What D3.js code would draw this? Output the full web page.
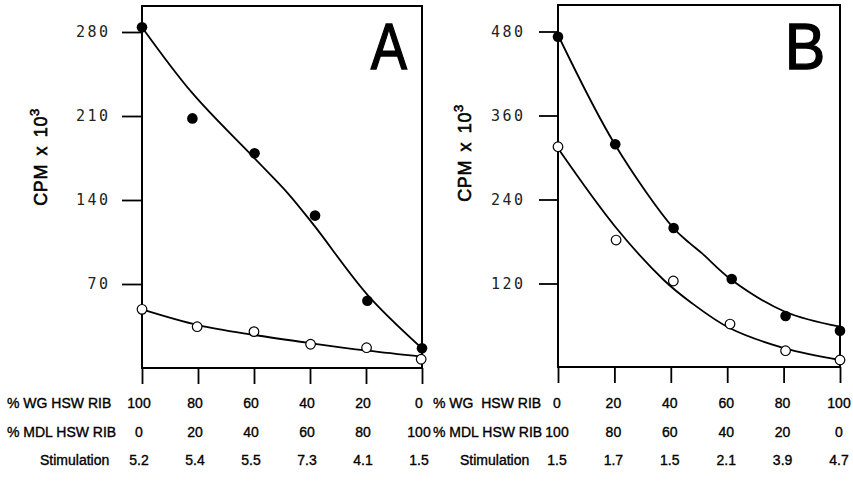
<!DOCTYPE html>
<html><head><meta charset="utf-8">
<script src="https://cdn.jsdelivr.net/npm/d3@7"></script>
<style>
body{margin:0;background:#fff;}
svg{display:block;}
.lbl{font-family:"Liberation Sans",Arial,sans-serif;font-size:14px;fill:#000;stroke:#000;stroke-width:0.35px;white-space:pre;}
.ytick text{font-family:"DejaVu Sans Mono",monospace;font-size:15px;fill:#222;letter-spacing:2.5px;}
</style></head><body>
<script>
// ---- Data ----
// Panel A
const wgA = [100, 80, 60, 40, 20, 0];
const mdlA = [0, 20, 40, 60, 80, 100];
const stimA = ["5.2", "5.4", "5.5", "7.3", "4.1", "1.5"];
const yTicksA = [70, 140, 210, 280];
const filledA_x = [100, 82.0, 59.8, 38.2, 19.5, 0];
const filledA_y = [284, 208, 179, 127, 56, 16.4];
const openA_x = [100, 80.3, 60, 39.8, 19.8, 0.3];
const openA_y = [48.9, 34.4, 30.3, 19.8, 16.9, 7.3];
const fitFilledA_x = [100, 82, 59.8, 47.9, 38.2, 19.4, 0];
const fitFilledA_y = [284, 229, 174.7, 145.6, 117.8, 60.8, 16.4];
const fitOpenA_x = [100, 80, 59.8, 39.5, 19.3, 0];
const fitOpenA_y = [48.9, 35.8, 27.5, 20.6, 14.4, 9.4];
// Panel B
const wgB = [0, 20, 40, 60, 80, 100];
const mdlB = [100, 80, 60, 40, 20, 0];
const stimB = ["1.5", "1.7", "1.5", "2.1", "3.9", "4.7"];
const yTicksB = [120, 240, 360, 480];
const filledB_x = [0, 20.3, 41, 61.6, 80.7, 100];
const filledB_y = [472.6, 318.9, 199.3, 126.4, 73.6, 52.6];
const openB_x = [0, 20.6, 40.9, 61, 80.7, 100];
const openB_y = [315.4, 182.1, 123.6, 62.1, 24, 10.7];
const fitFilledB_x = [0, 20.3, 41, 46.8, 51.1, 61.6, 80.5, 100];
const fitFilledB_y = [475, 317.9, 198.9, 177.4, 163, 125, 79.7, 58.3];
const fitOpenB_x = [0, 20.3, 37.5, 46.8, 61, 80.5, 100];
const fitOpenB_y = [313.1, 201.1, 125, 94, 56, 27.4, 10.7];

const W = 853, H = 483;
const svg = d3.select("body").append("svg").attr("width", W).attr("height", H);

function panel(cfg) {
  const g = svg.append("g");
  const x = d3.scaleLinear().domain(cfg.xDomain).range([cfg.left, cfg.right]);
  const y = d3.scaleLinear().domain([0, cfg.yMax]).range([cfg.y0, cfg.y0 - cfg.yMax * cfg.k]);

  // y axis
  const ya = g.append("g").attr("class", "ytick").attr("transform", `translate(${cfg.left},0)`)
    .call(d3.axisLeft(y).tickValues(cfg.yTicks).tickSize(cfg.yTickLen).tickPadding(cfg.yPad));
  ya.select(".domain").remove();
  ya.selectAll("line").attr("stroke", "#000").attr("stroke-width", 1.8);
  ya.selectAll("text").attr("dx", "2.5px");

  // x axis ticks
  const xa = g.append("g").attr("transform", `translate(0,${cfg.bottom})`)
    .call(d3.axisBottom(x).tickValues(cfg.wg).tickSize(16).tickFormat(""));
  xa.select(".domain").remove();
  xa.selectAll("line").attr("stroke", "#000").attr("stroke-width", 1.8);

  // frame
  g.append("rect").attr("x", cfg.left).attr("y", cfg.top)
    .attr("width", cfg.right - cfg.left).attr("height", cfg.bottom - cfg.top)
    .attr("fill", "none").attr("stroke", "#000").attr("stroke-width", 2);

  // fitted curves
  const line = d3.line().x(d => x(d[0])).y(d => y(d[1])).curve(d3.curveCatmullRom.alpha(0.5));
  [[cfg.fitF_x, cfg.fitF_y], [cfg.fitO_x, cfg.fitO_y]].forEach(([xs, ys]) => {
    const pts = xs.map((v, i) => [v, ys[i]]).sort((a, b) => x(a[0]) - x(b[0]));
    g.append("path").attr("d", line(pts)).attr("fill", "none")
      .attr("stroke", "#000").attr("stroke-width", 1.8);
  });

  // points
  g.selectAll(".op").data(cfg.openX.map((v, i) => [v, cfg.openY[i]])).join("circle")
    .attr("cx", d => x(d[0])).attr("cy", d => y(d[1])).attr("r", 4.8)
    .attr("fill", "#fff").attr("stroke", "#000").attr("stroke-width", 1.2);
  g.selectAll(".fp").data(cfg.filledX.map((v, i) => [v, cfg.filledY[i]])).join("circle")
    .attr("cx", d => x(d[0])).attr("cy", d => y(d[1])).attr("r", 5.3).attr("fill", "#000");

  // y label
  const t = g.append("text").attr("transform", `translate(${cfg.ylabX},${cfg.ylabY}) rotate(-90)`)
    .attr("text-anchor", "middle")
    .style("font-family", "Liberation Sans, Arial, sans-serif").style("font-size", "18px")
    .style("stroke", "#000").style("stroke-width", "0.6px")
    .style("letter-spacing", "0.6px").style("word-spacing", "3px");
  t.append("tspan").text("CPM x 10");
  t.append("tspan").text("3").attr("dy", -8).style("font-size", "13px");

  // panel letter
  g.append("text").attr("transform", `translate(${cfg.letterX},69) scale(${cfg.letterSX},1)`)
    .attr("text-anchor", "middle")
    .style("font-family", "Liberation Sans, Arial, sans-serif").style("font-size", "64px")
    .style("stroke", "#000").style("stroke-width", "1.3px")
    .text(cfg.letter);

  // bottom rows
  const rows = [
    {label: cfg.rowLabels[0], lx: cfg.rowLX[0], vals: cfg.wg, yb: 408},
    {label: cfg.rowLabels[1], lx: cfg.rowLX[1], vals: cfg.mdl, yb: 437},
    {label: cfg.rowLabels[2], lx: cfg.rowLX[2], vals: cfg.stim, yb: 465}
  ];
  rows.forEach(r => {
    g.append("text").attr("class", "lbl").attr("x", r.lx).attr("y", r.yb).text(r.label);
    g.selectAll(null).data(r.vals).join("text").attr("class", "lbl")
      .attr("x", (d, i) => x(cfg.wg[i]) + cfg.numOff).attr("y", r.yb)
      .attr("text-anchor", "middle").text(d => d);
  });
}

panel({
  xDomain: [100, 0], left: 142, right: 422, top: 6, bottom: 368,
  y0: 368, k: 1.2, yMax: 301, yTicks: yTicksA, yTickLen: 20, yPad: 14,
  wg: wgA, mdl: mdlA, stim: stimA,
  filledX: filledA_x, filledY: filledA_y, openX: openA_x, openY: openA_y,
  fitF_x: fitFilledA_x, fitF_y: fitFilledA_y, fitO_x: fitOpenA_x, fitO_y: fitOpenA_y,
  ylabX: 47, ylabY: 157, letter: "A", letterX: 389, letterSX: 0.85,
  rowLabels: ["% WG HSW RIB", "% MDL HSW RIB", "Stimulation"], rowLX: [7, 7, 40], numOff: -3
});

panel({
  xDomain: [0, 100], left: 558, right: 840, top: 5, bottom: 367,
  y0: 367.5, k: 0.7, yMax: 518, yTicks: yTicksB, yTickLen: 19, yPad: 16,
  wg: wgB, mdl: mdlB, stim: stimB,
  filledX: filledB_x, filledY: filledB_y, openX: openB_x, openY: openB_y,
  fitF_x: fitFilledB_x, fitF_y: fitFilledB_y, fitO_x: fitOpenB_x, fitO_y: fitOpenB_y,
  ylabX: 471, ylabY: 153, letter: "B", letterX: 805, letterSX: 0.95,
  rowLabels: ["% WG  HSW RIB", "% MDL HSW RIB", "Stimulation"], rowLX: [433, 433, 460], numOff: -1
});
</script>
</body></html>
